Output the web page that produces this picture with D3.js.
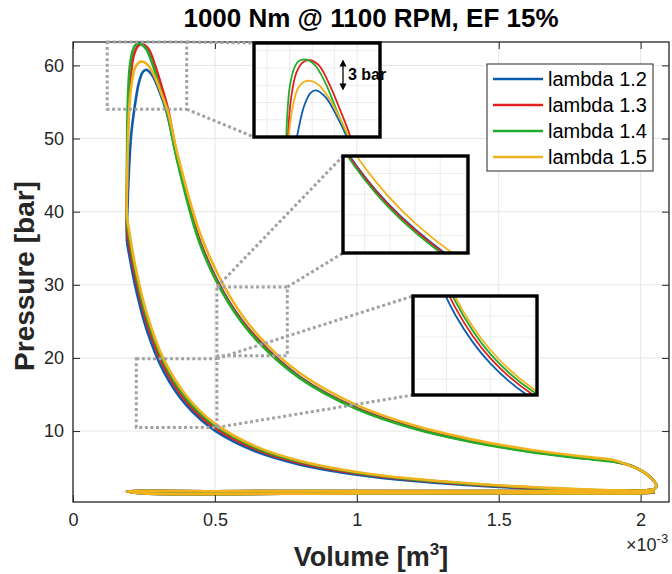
<!DOCTYPE html>
<html>
<head>
<meta charset="utf-8">
<script src="https://cdnjs.cloudflare.com/ajax/libs/d3/7.8.5/d3.min.js"></script>
<style>
  body { margin: 0; background: #fff; }
  svg { display: block; font-family: "Liberation Sans", Arial, sans-serif; }
</style>
</head>
<body>
<div id="chart"></div>
<script>
// PV loops, volume in 1e-3 m3, pressure in bar
let names = ["lambda 1.2", "lambda 1.3", "lambda 1.4", "lambda 1.5"];
let colors = ["#0b5cad", "#e3201f", "#21ad2b", "#f1b21d"];

let xTicks = [0, 0.5, 1, 1.5, 2];
let yTicks = [10, 20, 30, 40, 50, 60];

// compression stroke
let compV = [2.05, 1.8, 1.5, 1.2, 1.0, 0.8, 0.65, 0.5, 0.4, 0.32, 0.26, 0.22, 0.2, 0.19];
let compP = [
  [1.56, 1.85, 2.36, 3.17, 4.03, 5.41, 7.12, 10.06, 13.5, 18.1, 23.8, 29.7, 33.7, 36.1],
  [1.62, 1.92, 2.45, 3.30, 4.19, 5.63, 7.40, 10.46, 14.0, 18.8, 24.8, 30.9, 35.0, 37.5],
  [1.67, 1.98, 2.53, 3.39, 4.31, 5.79, 7.62, 10.76, 14.4, 19.4, 25.5, 31.8, 36.1, 38.6],
  [1.71, 2.03, 2.58, 3.47, 4.41, 5.92, 7.80, 11.02, 14.8, 19.8, 26.1, 32.5, 36.9, 39.5]
];

// combustion around TDC [V, p]
let combustion = [
  [[0.192, 40.5], [0.197, 45.5], [0.205, 50.5], [0.218, 54.5], [0.232, 57.6], [0.246, 59.1], [0.258, 59.4], [0.28, 58.6], [0.305, 56.4], [0.33, 53.6], [0.37, 46.8]],
  [[0.19, 42], [0.192, 48], [0.196, 54], [0.203, 58.5], [0.215, 61.5], [0.23, 62.7], [0.245, 62.9], [0.265, 62.3], [0.29, 59.9], [0.31, 57.4], [0.335, 54.0], [0.37, 47.0]],
  [[0.19, 45], [0.191, 51], [0.194, 56], [0.2, 59.8], [0.21, 62.0], [0.22, 62.8], [0.234, 63.0], [0.255, 62.4], [0.28, 60.2], [0.305, 57.0], [0.33, 53.8], [0.37, 46.5]],
  [[0.191, 44.5], [0.194, 50], [0.198, 54], [0.206, 57.3], [0.218, 59.6], [0.232, 60.4], [0.247, 60.5], [0.265, 60.0], [0.29, 58.3], [0.31, 56.3], [0.335, 53.6], [0.37, 47.6]]
];

// expansion stroke
let expV = [0.45, 0.55, 0.65, 0.8, 1.0, 1.2, 1.4, 1.6, 1.8, 1.9];
let expP = [
  [35.7, 27.7, 22.6, 17.4, 13.15, 10.47, 8.64, 7.30, 6.31, 5.90],
  [35.6, 27.6, 22.5, 17.3, 13.1, 10.43, 8.61, 7.28, 6.29, 5.87],
  [35.3, 27.4, 22.3, 17.2, 13.0, 10.35, 8.54, 7.22, 6.24, 5.83],
  [36.8, 28.6, 23.2, 17.9, 13.55, 10.78, 8.90, 7.52, 6.50, 6.07]
];

// blowdown, exhaust and intake
let gasV = [1.95, 1.99, 2.02, 2.043, 2.055, 2.05, 2.02, 1.95, 1.6, 1.0, 0.5, 0.19, 0.25, 1.0, 1.6, 2.0];
let gasP = [5.45, 4.85, 4.15, 3.35, 2.6, 2.1, 1.9, 1.84, 1.8, 1.8, 1.78, 1.75, 1.48, 1.47, 1.5, 1.52];

let annotation = { label: "3 bar", top: 63.0, bottom: 59.4 };

// inset layout (page px) and zoomed ranges
let insets = [
  { box: [254, 43, 380, 137], xd: [0.1206, 0.4007], yd: [54.0, 64.9], links: [["tr", "tl"], ["br", "bl"]] },
  { box: [343, 156, 468, 253], xd: [0.507, 0.755], yd: [20.3, 29.7], links: [["tl", "tl"], ["tr", "bl"]] },
  { box: [413, 296, 537, 395], xd: [0.223, 0.507], yd: [10.5, 19.9], links: [["tr", "tl"], ["br", "bl"]] }
];

let svgWidth = 672, svgHeight = 574;
let margin = { top: 42, right: 3, bottom: 72, left: 73 };
let width = svgWidth - margin.left - margin.right;
let height = svgHeight - margin.top - margin.bottom;

let svg = d3.select("#chart").append("svg")
  .attr("width", svgWidth)
  .attr("height", svgHeight);

let chart = svg.append("g")
  .attr("transform", "translate(" + margin.left + "," + margin.top + ")");

let x = d3.scaleLinear().domain([0, 2.1]).range([0, width]);
let y = d3.scaleLinear().domain([0.3, 63.2]).range([height, 0]);

// build each loop from its pieces
let loops = names.map(function(n, i) {
  let pts = compV.map((v, j) => [v, compP[i][j]]);
  pts = pts.concat(combustion[i]);
  pts = pts.concat(expV.map((v, j) => [v, expP[i][j]]));
  pts = pts.concat(gasV.map((v, j) => [v, gasP[j]]));
  pts.push(pts[0]);
  return pts;
});

// grid
chart.append("g").selectAll("line").data(xTicks).enter().append("line")
  .attr("x1", d => x(d)).attr("x2", d => x(d)).attr("y1", 0).attr("y2", height)
  .attr("stroke", "#e6e6e6").attr("stroke-width", 1);
chart.append("g").selectAll("line").data(yTicks).enter().append("line")
  .attr("y1", d => y(d)).attr("y2", d => y(d)).attr("x1", 0).attr("x2", width)
  .attr("stroke", "#e6e6e6").attr("stroke-width", 1);

// curves
let line = d3.line().x(d => x(d[0])).y(d => y(d[1])).curve(d3.curveCatmullRom.alpha(0.5));
chart.append("g").selectAll("path").data(loops).enter().append("path")
  .attr("d", line)
  .attr("fill", "none")
  .attr("stroke", (d, i) => colors[i])
  .attr("stroke-width", 2.6)
  .attr("stroke-linejoin", "round");

// axes with inward ticks
function styleAxis(g) {
  g.select(".domain").remove();
  g.selectAll(".tick line").attr("stroke", "#262626").attr("stroke-width", 1);
  g.selectAll(".tick text").attr("fill", "#262626").style("font-size", "18px")
    .style("font-family", "'Liberation Sans', Arial, sans-serif");
}
chart.append("g").attr("transform", "translate(0," + height + ")")
  .call(d3.axisBottom(x).tickValues(xTicks).tickSize(-7).tickPadding(11).tickFormat(d => String(d)))
  .call(styleAxis);
chart.append("g")
  .call(d3.axisLeft(y).tickValues(yTicks).tickSize(-7).tickPadding(9).tickFormat(d => String(d)))
  .call(styleAxis);
chart.append("g")
  .call(d3.axisTop(x).tickValues(xTicks).tickSize(-7).tickFormat(""))
  .call(styleAxis);
chart.append("g").attr("transform", "translate(" + width + ",0)")
  .call(d3.axisRight(y).tickValues(yTicks).tickSize(-7).tickFormat(""))
  .call(styleAxis);
chart.append("rect").attr("width", width).attr("height", height)
  .attr("fill", "none").attr("stroke", "#262626").attr("stroke-width", 1.3);

// zoom source rectangles and connector lines
let dotted = svg.append("g")
  .attr("fill", "none").attr("stroke", "#a3a3a3")
  .attr("stroke-width", 3).attr("stroke-dasharray", "3,2.6");
insets.forEach(function(ins) {
  let sx0 = margin.left + x(ins.xd[0]), sx1 = margin.left + x(ins.xd[1]);
  let sy0 = margin.top + Math.max(0, y(ins.yd[1])), sy1 = margin.top + Math.min(height, y(ins.yd[0]));
  dotted.append("rect").attr("x", sx0).attr("y", sy0).attr("width", sx1 - sx0).attr("height", sy1 - sy0);
  let src = { tl: [sx0, sy0], tr: [sx1, sy0], bl: [sx0, sy1], br: [sx1, sy1] };
  let b = ins.box;
  let dst = { tl: [b[0], b[1]], tr: [b[2], b[1]], bl: [b[0], b[3]], br: [b[2], b[3]] };
  ins.links.forEach(function(l) {
    dotted.append("line")
      .attr("x1", src[l[0]][0]).attr("y1", src[l[0]][1])
      .attr("x2", dst[l[1]][0]).attr("y2", dst[l[1]][1]);
  });
});

// inset views
insets.forEach(function(ins, k) {
  let b = ins.box;
  let w = b[2] - b[0], h = b[3] - b[1];
  let ix = d3.scaleLinear().domain(ins.xd).range([0, w]);
  let iy = d3.scaleLinear().domain(ins.yd).range([h, 0]);
  let g = svg.append("g").attr("transform", "translate(" + b[0] + "," + b[1] + ")");
  g.append("clipPath").attr("id", "clip" + k).append("rect").attr("width", w).attr("height", h);
  g.append("rect").attr("width", w).attr("height", h).attr("fill", "#fff");
  let inner = g.append("g").attr("clip-path", "url(#clip" + k + ")");
  inner.selectAll(".gx").data(ix.ticks(4)).enter().append("line")
    .attr("x1", d => ix(d)).attr("x2", d => ix(d)).attr("y1", 0).attr("y2", h)
    .attr("stroke", "#ececec");
  inner.selectAll(".gy").data(iy.ticks(4)).enter().append("line")
    .attr("y1", d => iy(d)).attr("y2", d => iy(d)).attr("x1", 0).attr("x2", w)
    .attr("stroke", "#ececec");
  let iline = d3.line().x(d => ix(d[0])).y(d => iy(d[1])).curve(d3.curveCatmullRom.alpha(0.5));
  inner.selectAll("path").data(loops).enter().append("path")
    .attr("d", iline)
    .attr("fill", "none")
    .attr("stroke", (d, i) => colors[i])
    .attr("stroke-width", 1.8);
  g.append("rect").attr("width", w).attr("height", h)
    .attr("fill", "none").attr("stroke", "#000").attr("stroke-width", 3.4);

  if (k === 0) {
    let ax = 89;
    let a0 = iy(annotation.top), a1 = iy(annotation.bottom);
    g.append("line").attr("x1", ax).attr("x2", ax).attr("y1", a0 + 5).attr("y2", a1 - 5)
      .attr("stroke", "#000").attr("stroke-width", 1.3);
    g.append("path").attr("d", "M" + ax + "," + a0 + "l-3.5,7h7z").attr("fill", "#000");
    g.append("path").attr("d", "M" + ax + "," + a1 + "l-3.5,-7h7z").attr("fill", "#000");
    g.append("text").attr("x", ax + 5).attr("y", (a0 + a1) / 2)
      .attr("dominant-baseline", "central")
      .style("font-size", "16px").style("font-weight", "bold")
      .text(annotation.label);
  }
});

// legend
let legend = svg.append("g").attr("transform", "translate(487,64)");
legend.append("rect").attr("width", 166).attr("height", 107)
  .attr("fill", "#fff").attr("stroke", "#262626").attr("stroke-width", 1);
let items = legend.selectAll(".item").data(names).enter().append("g")
  .attr("transform", (d, i) => "translate(0," + (15 + i * 26) + ")");
items.append("line").attr("x1", 6).attr("x2", 56)
  .attr("stroke", (d, i) => colors[i]).attr("stroke-width", 2.6);
items.append("text").attr("x", 61).attr("dominant-baseline", "central")
  .style("font-size", "20px").attr("fill", "#000").text(d => d);

// title and labels
svg.append("text").attr("x", margin.left + width / 2).attr("y", 27)
  .attr("text-anchor", "middle").style("font-size", "26px").style("font-weight", "bold")
  .text("1000 Nm @ 1100 RPM, EF 15%");

svg.append("text")
  .attr("transform", "translate(24," + 276 + ") rotate(-90)")
  .attr("text-anchor", "middle").attr("dominant-baseline", "central")
  .style("font-size", "28px").style("font-weight", "bold").attr("fill", "#262626")
  .text("Pressure [bar]");

let xl = svg.append("text").attr("x", margin.left + width / 2).attr("y", 566)
  .attr("text-anchor", "middle").style("font-size", "27px").style("font-weight", "bold")
  .attr("fill", "#262626");
xl.append("tspan").text("Volume [m");
xl.append("tspan").attr("dy", -11).style("font-size", "17px").text("3");
xl.append("tspan").attr("dy", 11).text("]");

let ex = svg.append("text").attr("x", 626).attr("y", 551)
  .style("font-size", "18px").attr("fill", "#262626");
ex.append("tspan").text("\u00d710");
ex.append("tspan").attr("dy", -8).style("font-size", "13px").text("-3");
</script>
</body>
</html>
